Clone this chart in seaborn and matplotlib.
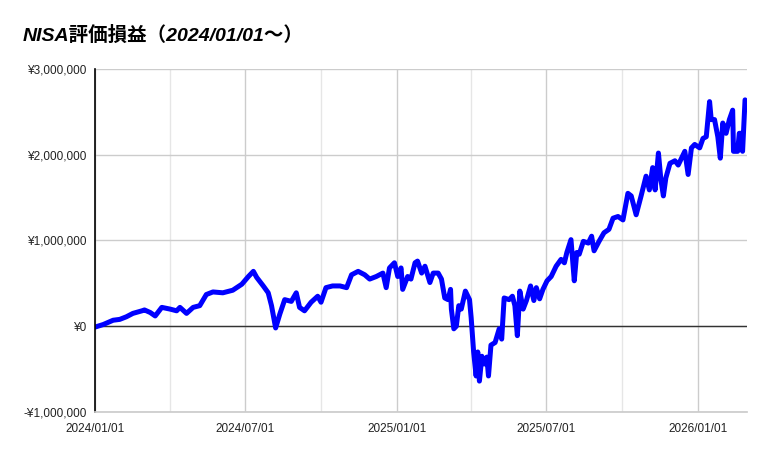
import pandas as pd
import matplotlib
matplotlib.use("Agg")
import matplotlib.pyplot as plt
import matplotlib.dates as mdates
from matplotlib.ticker import FuncFormatter, MultipleLocator
import seaborn as sns

# --- data (value in millions of yen) ---
dates = [
    "2024-01-01", "2024-01-11", "2024-01-23", "2024-01-31", "2024-02-08", "2024-02-16",
    "2024-02-27", "2024-03-01", "2024-03-08", "2024-03-14", "2024-03-22", "2024-04-01",
    "2024-04-09", "2024-04-13", "2024-04-21", "2024-04-29", "2024-05-07", "2024-05-15",
    "2024-05-23", "2024-06-04", "2024-06-16", "2024-06-27", "2024-07-05", "2024-07-11",
    "2024-07-15", "2024-07-23", "2024-07-29", "2024-08-02", "2024-08-07", "2024-08-12",
    "2024-08-18", "2024-08-26", "2024-09-01", "2024-09-05", "2024-09-11", "2024-09-19",
    "2024-09-27", "2024-10-01", "2024-10-07", "2024-10-15", "2024-10-24", "2024-11-01",
    "2024-11-07", "2024-11-15", "2024-11-23", "2024-11-29", "2024-12-07", "2024-12-15",
    "2024-12-19", "2024-12-23", "2024-12-29", "2025-01-02", "2025-01-06", "2025-01-08",
    "2025-01-14", "2025-01-18", "2025-01-23", "2025-01-26", "2025-01-31", "2025-02-04",
    "2025-02-10", "2025-02-14", "2025-02-20", "2025-02-24", "2025-02-28", "2025-03-04",
    "2025-03-07", "2025-03-08", "2025-03-11", "2025-03-14", "2025-03-17", "2025-03-20",
    "2025-03-25", "2025-03-30", "2025-04-01", "2025-04-04", "2025-04-07", "2025-04-09",
    "2025-04-11", "2025-04-14", "2025-04-17", "2025-04-20", "2025-04-22", "2025-04-25",
    "2025-04-30", "2025-05-05", "2025-05-08", "2025-05-11", "2025-05-17", "2025-05-21",
    "2025-05-24", "2025-05-27", "2025-05-30", "2025-06-03", "2025-06-07", "2025-06-12",
    "2025-06-16", "2025-06-19", "2025-06-23", "2025-06-27", "2025-07-02", "2025-07-07",
    "2025-07-13", "2025-07-19", "2025-07-23", "2025-07-26", "2025-07-31", "2025-08-04",
    "2025-08-07", "2025-08-10", "2025-08-15", "2025-08-21", "2025-08-25", "2025-08-28",
    "2025-09-03", "2025-09-09", "2025-09-15", "2025-09-20", "2025-09-26", "2025-10-02",
    "2025-10-08", "2025-10-12", "2025-10-18", "2025-10-24", "2025-10-30", "2025-11-03",
    "2025-11-07", "2025-11-10", "2025-11-14", "2025-11-17", "2025-11-20", "2025-11-23",
    "2025-11-28", "2025-12-04", "2025-12-08", "2025-12-16", "2025-12-20", "2025-12-24",
    "2025-12-28", "2026-01-03", "2026-01-07", "2026-01-11", "2026-01-15", "2026-01-17",
    "2026-01-21", "2026-01-25", "2026-01-28", "2026-01-31", "2026-02-04", "2026-02-08",
    "2026-02-12", "2026-02-13", "2026-02-18", "2026-02-20", "2026-02-22", "2026-02-24",
    "2026-02-27",
]
profit_m = [
    -0.01, 0.02, 0.07, 0.08, 0.11, 0.15,
    0.18, 0.19, 0.16, 0.12, 0.22, 0.20,
    0.18, 0.22, 0.15, 0.22, 0.24, 0.37,
    0.40, 0.39, 0.42, 0.49, 0.58, 0.64,
    0.57, 0.47, 0.39, 0.24, -0.02, 0.14,
    0.31, 0.29, 0.39, 0.22, 0.18, 0.28,
    0.35, 0.28, 0.45, 0.47, 0.47, 0.45,
    0.60, 0.64, 0.60, 0.55, 0.58, 0.62,
    0.45, 0.68, 0.74, 0.58, 0.68, 0.43,
    0.58, 0.55, 0.74, 0.76, 0.62, 0.70,
    0.51, 0.62, 0.62, 0.55, 0.33, 0.31,
    0.43, 0.20, -0.03, 0.00, 0.24, 0.20,
    0.41, 0.31, 0.10, -0.30, -0.58, -0.30,
    -0.64, -0.35, -0.44, -0.36, -0.58, -0.22,
    -0.19, -0.03, -0.15, 0.33, 0.31, 0.35,
    0.24, -0.11, 0.41, 0.20, 0.30, 0.47,
    0.30, 0.45, 0.32, 0.43, 0.53, 0.58,
    0.70, 0.78, 0.74, 0.86, 1.01, 0.53,
    0.86, 0.84, 0.99, 0.97, 1.05, 0.88,
    0.99, 1.09, 1.13, 1.26, 1.28, 1.24,
    1.55, 1.52, 1.30, 1.52, 1.75, 1.59,
    1.85, 1.59, 2.02, 1.71, 1.52, 1.73,
    1.90, 1.93, 1.88, 2.04, 1.77, 2.08,
    2.12, 2.08, 2.19, 2.21, 2.62, 2.41,
    2.41, 2.21, 1.96, 2.37, 2.25, 2.41,
    2.52, 2.04, 2.04, 2.25, 2.25, 2.04,
    2.64,
]
title_text = "NISA評価損益（2024/01/01～）"

df = pd.DataFrame({"date": pd.to_datetime(dates), "profit": [v * 1_000_000 for v in profit_m]})

sns.set_theme(style="white")
plt.rcParams["font.family"] = ["Liberation Sans", "Noto Sans CJK JP", "DejaVu Sans"]

fig = plt.figure(figsize=(7.69, 4.57), dpi=100)
ax = fig.add_axes([0.1235, 0.0985, 0.8475, 0.7505])

sns.lineplot(data=df, x="date", y="profit", ax=ax, color="#0000ff", linewidth=3.6)

ax.set_xlim(pd.Timestamp("2024-01-01"), pd.Timestamp("2026-03-01"))
ax.set_ylim(-1_000_000, 3_000_000)

# grid: half-year majors, quarter minors
ax.xaxis.set_major_locator(mdates.MonthLocator(bymonth=[1, 7]))
ax.xaxis.set_minor_locator(mdates.MonthLocator(bymonth=[4, 10]))
ax.xaxis.set_major_formatter(mdates.DateFormatter("%Y/%m/%d"))
ax.yaxis.set_major_locator(MultipleLocator(1_000_000))
ax.yaxis.set_major_formatter(FuncFormatter(lambda v, p: f"-¥{abs(v):,.0f}" if v < 0 else f"¥{v:,.0f}"))

ax.grid(which="major", axis="both", color="#cccccc", linewidth=1)
ax.grid(which="minor", axis="x", color="#e6e6e6", linewidth=1)
ax.set_axisbelow(True)
ax.axhline(0, color="#333333", linewidth=1, zorder=1.5)

for s in ["top", "right"]:
    ax.spines[s].set_visible(False)
ax.spines["left"].set_color("#000000")
ax.spines["left"].set_linewidth(1.2)
ax.spines["bottom"].set_color("#cccccc")

ax.tick_params(axis="both", which="both", length=0, labelsize=8.5, colors="#222222")
ax.tick_params(axis="y", pad=6)
ax.tick_params(axis="x", pad=8)
ax.set_xlabel("")
ax.set_ylabel("")

fig.text(0.03, 0.922, title_text, fontsize=14, fontweight="bold", fontstyle="italic",
         color="#000000", va="center", ha="left")

fig.savefig("out.png", dpi=100)
